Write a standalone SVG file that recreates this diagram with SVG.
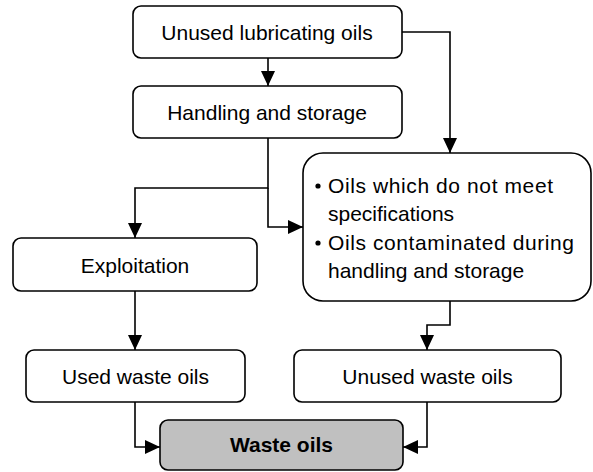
<svg xmlns="http://www.w3.org/2000/svg" width="593" height="472" viewBox="0 0 593 472">
<style>
.box{fill:#ffffff;stroke:#000000;stroke-width:1.6}
.grey{fill:#c0c0c0}
.t{font-family:"Liberation Sans",Arial,sans-serif;font-size:21px;fill:#000000;text-anchor:middle}
.tl{font-family:"Liberation Sans",Arial,sans-serif;font-size:21px;fill:#000000}
.b{font-weight:bold}
.c{fill:none;stroke:#000000;stroke-width:1.6}
</style>
<defs>
<marker id="ah" markerUnits="userSpaceOnUse" markerWidth="15" markerHeight="14" refX="15" refY="7" orient="auto">
<path d="M0,0 L15,7 L0,14 Z" fill="#000000"/>
</marker>
</defs>
<g id="connectors">
<path class="c" d="M268,58 V86" marker-end="url(#ah)"/>
<path class="c" d="M402,32 H450 V153" marker-end="url(#ah)"/>
<path class="c" d="M268,138 V188 H135 V238" marker-end="url(#ah)"/>
<path class="c" d="M268,188 V227 H303" marker-end="url(#ah)"/>
<path class="c" d="M135,291 V350" marker-end="url(#ah)"/>
<path class="c" d="M450,301 V325 H427 V350" marker-end="url(#ah)"/>
<path class="c" d="M135,402 V447 H160" marker-end="url(#ah)"/>
<path class="c" d="M427,402 V447 H403" marker-end="url(#ah)"/>
</g>
<g id="unused-lubricating-oils">
<rect class="box" x="133" y="6" width="269" height="52" rx="8"/>
<text class="t" x="267" y="40">Unused lubricating oils</text>
</g>
<g id="handling-storage">
<rect class="box" x="133" y="86" width="269" height="52" rx="8"/>
<text class="t" x="267" y="120">Handling and storage</text>
</g>
<g id="off-spec">
<rect class="box" x="303" y="153" width="288" height="148" rx="20"/>
<circle cx="318" cy="186" r="2.6"/>
<text class="tl" x="328" y="193" textLength="225" lengthAdjust="spacing">Oils which do not meet</text>
<text class="tl" x="328" y="221">specifications</text>
<circle cx="318" cy="243" r="2.6"/>
<text class="tl" x="328" y="250" textLength="246" lengthAdjust="spacing">Oils contaminated during</text>
<text class="tl" x="328" y="278">handling and storage</text>
</g>
<g id="exploitation">
<rect class="box" x="13" y="238" width="244" height="53" rx="8"/>
<text class="t" x="135" y="273">Exploitation</text>
</g>
<g id="used-waste-oils">
<rect class="box" x="26" y="350" width="219" height="52" rx="8"/>
<text class="t" x="135.5" y="384">Used waste oils</text>
</g>
<g id="unused-waste-oils">
<rect class="box" x="294" y="350" width="267" height="52" rx="8"/>
<text class="t" x="427.5" y="384">Unused waste oils</text>
</g>
<g id="waste-oils">
<rect class="box grey" x="160" y="420" width="243" height="50" rx="8"/>
<text class="t b" x="281.5" y="452">Waste oils</text>
</g>
</svg>
